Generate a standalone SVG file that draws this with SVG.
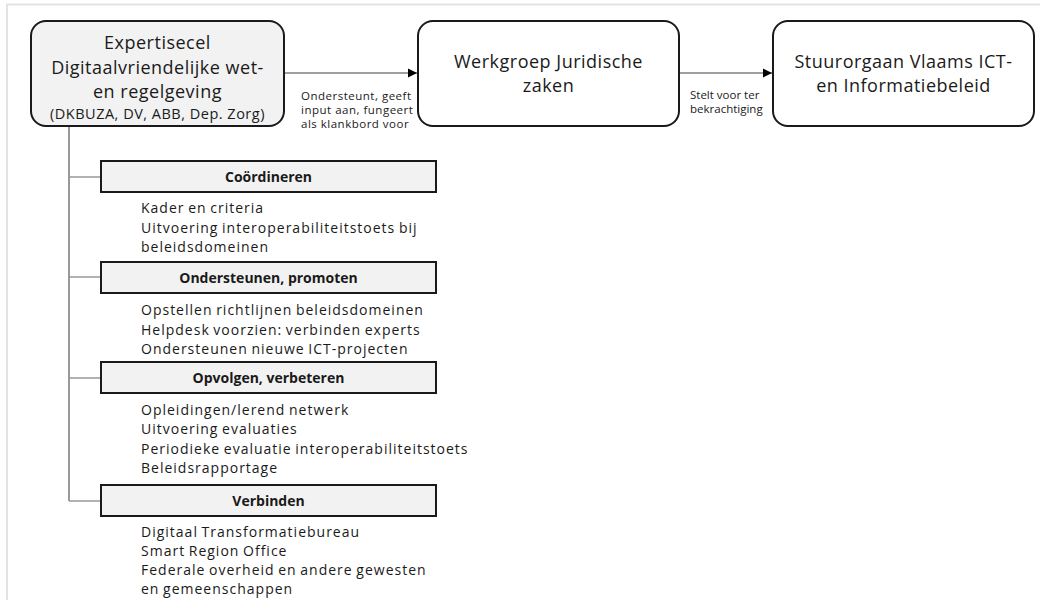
<svg xmlns="http://www.w3.org/2000/svg" width="1040" height="600" viewBox="0 0 1040 600">
<style>
  .main{fill:#f2f2f2;stroke:#1a1a1a;stroke-width:2}
  .node{fill:#ffffff;stroke:#1a1a1a;stroke-width:2}
  .hdr{fill:#f2f2f2;stroke:#1a1a1a;stroke-width:2}
  text{font-family:"Open Sans","Noto Sans","Liberation Sans",sans-serif;fill:#1a1a1a}
  .big{font-size:18px;letter-spacing:0.5px;text-anchor:middle}
  .sub{font-size:14.5px;letter-spacing:0.5px;text-anchor:middle}
  .lbl{font-size:11.5px}
  .lblw{letter-spacing:0.5px}
  .h{font-size:14px;font-weight:bold;text-anchor:middle}
  .li{font-size:14px;letter-spacing:1px;word-spacing:-1px}
  .conn{stroke:#7f7f7f;stroke-width:1.5;fill:none}
  .tree{stroke:#999999;stroke-width:2;fill:none}
  .br{stroke:#999999;stroke-width:1.5;fill:none}
</style>
<defs>
  <marker id="arr" markerWidth="10" markerHeight="10" refX="9" refY="5" orient="auto" markerUnits="userSpaceOnUse">
    <path d="M0,0.5 L9,5 L0,9.5 Z" fill="#000"/>
  </marker>
</defs>
<path d="M7,600 V4.5 H1040" stroke="#e3e3e3" stroke-width="2" fill="none"/>

<g id="connectors">
  <line class="conn" x1="284" y1="73" x2="417" y2="73" marker-end="url(#arr)"/>
  <line class="conn" x1="679" y1="73" x2="772" y2="73" marker-end="url(#arr)"/>
  <path class="tree" d="M69,126 V501"/>
  <path class="br" d="M69,177 H101 M69,277 H101 M69,378 H101 M69,501 H101"/>
  <text class="lbl lblw" x="301" y="99.5">Ondersteunt, geeft</text>
  <text class="lbl lblw" x="301" y="113.5">input aan, fungeert</text>
  <text class="lbl lblw" x="301" y="127.5">als klankbord voor</text>
  <text class="lbl" x="690" y="99">Stelt voor ter</text>
  <text class="lbl" x="690" y="113">bekrachtiging</text>
</g>

<g id="expertisecel">
  <rect class="main" x="31" y="21" width="253" height="105" rx="15"/>
  <text class="big" x="157.5" y="49">Expertisecel</text>
  <text class="big" x="157.5" y="73.5">Digitaalvriendelijke wet-</text>
  <text class="big" x="157.5" y="98">en regelgeving</text>
  <text class="sub" x="157.5" y="119">(DKBUZA, DV, ABB, Dep. Zorg)</text>
</g>

<g id="werkgroep">
  <rect class="node" x="418" y="21" width="261" height="105" rx="15"/>
  <text class="big" x="548.5" y="67.5">Werkgroep Juridische</text>
  <text class="big" x="548.5" y="92">zaken</text>
</g>

<g id="stuurorgaan">
  <rect class="node" x="773" y="21" width="261" height="105" rx="15"/>
  <text class="big" x="903.5" y="67.5">Stuurorgaan Vlaams ICT-</text>
  <text class="big" x="903.5" y="92">en Informatiebeleid</text>
</g>

<g id="coordineren">
  <rect class="hdr" x="101" y="161" width="335" height="31"/>
  <text class="h" x="268.5" y="182">Coördineren</text>
  <text class="li" x="141" y="213">Kader en criteria</text>
  <text class="li" x="141" y="233">Uitvoering interoperabiliteitstoets bij</text>
  <text class="li" x="141" y="252">beleidsdomeinen</text>
</g>

<g id="ondersteunen">
  <rect class="hdr" x="101" y="262" width="335" height="31"/>
  <text class="h" x="268.5" y="283">Ondersteunen, promoten</text>
  <text class="li" x="141" y="315">Opstellen richtlijnen beleidsdomeinen</text>
  <text class="li" x="141" y="335">Helpdesk voorzien: verbinden experts</text>
  <text class="li" x="141" y="354">Ondersteunen nieuwe ICT-projecten</text>
</g>

<g id="opvolgen">
  <rect class="hdr" x="101" y="362" width="335" height="31"/>
  <text class="h" x="268.5" y="383">Opvolgen, verbeteren</text>
  <text class="li" x="141" y="415">Opleidingen/lerend netwerk</text>
  <text class="li" x="141" y="434">Uitvoering evaluaties</text>
  <text class="li" x="141" y="454">Periodieke evaluatie interoperabiliteitstoets</text>
  <text class="li" x="141" y="473">Beleidsrapportage</text>
</g>

<g id="verbinden">
  <rect class="hdr" x="101" y="485" width="335" height="31"/>
  <text class="h" x="268.5" y="506">Verbinden</text>
  <text class="li" x="141" y="537">Digitaal Transformatiebureau</text>
  <text class="li" x="141" y="556">Smart Region Office</text>
  <text class="li" x="141" y="575">Federale overheid en andere gewesten</text>
  <text class="li" x="141" y="594">en gemeenschappen</text>
</g>
</svg>
